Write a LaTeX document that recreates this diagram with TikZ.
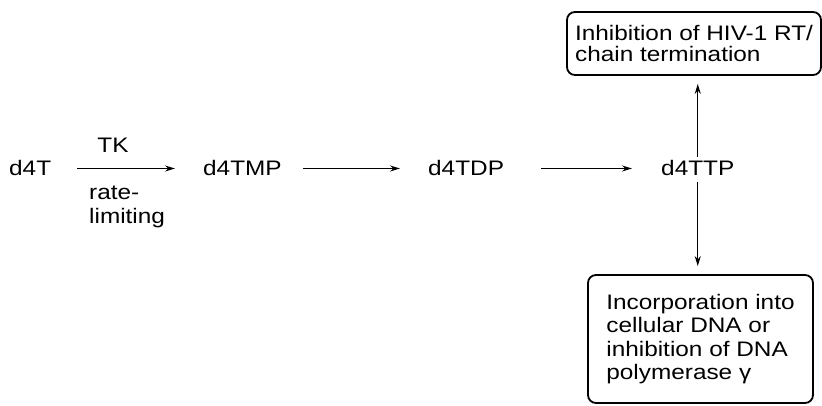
\documentclass[tikz,border=0pt]{standalone}
\usepackage{fontspec}
\setmainfont[FakeStretch=1.16]{Liberation Sans}
\usetikzlibrary{arrows.meta}

\begin{document}
\begin{tikzpicture}[x=1pt,y=-1pt,
	every node/.style={inner sep=0pt,font=\fontsize{21}{23.5}\selectfont},
	cpd/.style={anchor=base west},
	flow/.style={line width=1.3pt,-{Stealth[length=10pt,width=6pt]}},
	result/.style={draw,line width=1.8pt,rounded corners=8pt,align=left}]
	\useasboundingbox (0,0) rectangle (822,406);
	% pathway
	\node[cpd] (t) at (9,176) {d4T};
	\node[cpd] (tmp) at (203,176) {d4TMP};
	\node[cpd] (tdp) at (428,176) {d4TDP};
	\node[cpd] (ttp) at (661,176) {d4TTP};
	\node[anchor=base] (tk) at (113,153) {TK};
	\node[align=left,anchor=north west] (rate) at (89,186) {rate-\\limiting};
	% end points
	\node[result,minimum width=254pt,minimum height=63pt,
		font=\fontsize{21}{21}\selectfont] (rt) at (694,43.5)
		{Inhibition of HIV-1 RT/\\chain termination};
	\node[result,minimum width=225pt,minimum height=128pt] (dna) at (700.5,339)
		{Incorporation into\\cellular DNA or\\inhibition of DNA\\polymerase γ};
	\draw[flow,shorten <=26pt,shorten >=28pt] (t) -- (tmp);
	\draw[flow,shorten <=21pt,shorten >=28pt] (tmp) -- (tdp);
	\draw[flow,shorten <=37pt,shorten >=29pt] (tdp) -- (ttp);
	\draw[flow,shorten <=4pt,shorten >=8pt] (ttp.north) -- (ttp.north |- rt.south);
	\draw[flow,shorten <=6pt,shorten >=8pt] (ttp.south) -- (ttp.south |- dna.north);
\end{tikzpicture}
\end{document}
